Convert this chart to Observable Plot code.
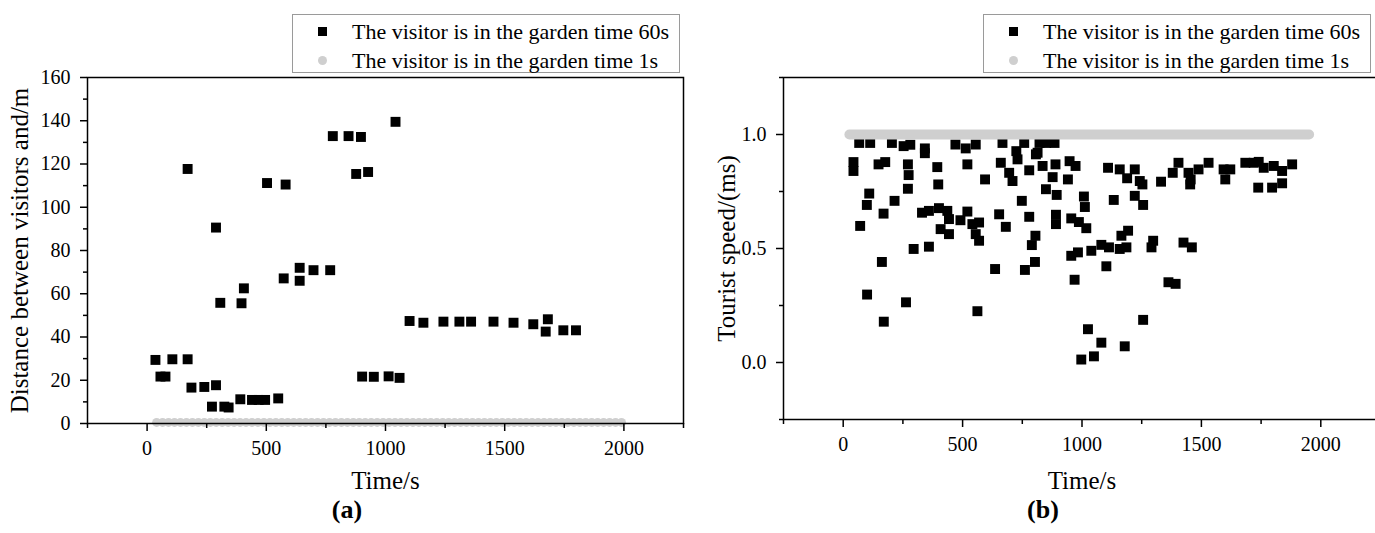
<!DOCTYPE html>
<html>
<head>
<meta charset="utf-8">
<script src="https://cdn.jsdelivr.net/npm/d3@7"></script>
<script src="https://cdn.jsdelivr.net/npm/@observablehq/plot@0.6"></script>
<style>
  html, body { margin: 0; padding: 0; background: #fff; }
  body { width: 1375px; height: 533px; overflow: hidden; position: relative;
         font-family: "Liberation Serif", "Times New Roman", serif; color: #000; }
  .panel { position: absolute; top: 0; width: 700px; height: 533px; }
  .legend { position: absolute; top: 14px; width: 386px; height: 57px; border: 1px solid #9a9a9a;
            background: #fff; font-size: 22px; }
  .legend .row { position: absolute; left: 0; width: 100%; height: 28px; line-height: 28px; }
  .legend .row span.txt { position: absolute; left: 59px; top: 0; white-space: nowrap; }
  .legend .mk { position: absolute; left: 25px; top: 9px; width: 9px; height: 9px; }
  .legend .sq { background: #000; }
  .legend .ci { background: #cfcfcf; border-radius: 50%; }
  .caption { position: absolute; top: 497px; width: 120px; margin-left: -60px; text-align: center;
             font-weight: bold; font-size: 26px; line-height: 26px; }
  svg [aria-label="x-axis label"], svg [aria-label="y-axis label"] { font-size: 25px; }
</style>
</head>
<body>
<script>
// ---------- ticks & labels ----------
const timeTicks = [0, 500, 1000, 1500, 2000];
const timeMinorTicks = [-250, 250, 750, 1250, 1750, 2250];
const distanceTicks = [0, 20, 40, 60, 80, 100, 120, 140, 160];
const distanceMinorTicks = [10, 30, 50, 70, 90, 110, 130, 150];
const speedTicks = [0, 0.5, 1.0];
const speedMinorTicks = [-0.25, 0.25, 0.75, 1.25];
const legendLabels = ["The visitor is in the garden time 60s", "The visitor is in the garden time 1s"];
const panelCaptions = ["(a)", "(b)"];
const xLabel = "Time/s";
const distanceLabel = "Distance between visitors and/m";
const speedLabel = "Tourist speed/(ms)";

// ---------- (a) distance, garden time 60s ----------
const distTime = [35, 56, 77, 106, 170, 170, 186, 240, 289, 289, 272, 324, 342, 307, 396, 406, 391, 440, 468, 495,
  550, 503, 581, 573, 640, 640, 698, 768, 779, 845, 897, 877, 927, 1042, 902, 951, 1013, 1059, 1101, 1159,
  1243, 1310, 1359, 1453, 1537, 1620, 1681, 1672, 1746, 1799];
const distValue = [29.4, 21.7, 21.7, 29.7, 29.7, 117.7, 16.6, 16.9, 17.7, 90.6, 7.8, 7.8, 7.4, 55.8, 55.6, 62.5, 11.2, 10.9, 10.9, 10.9,
  11.6, 111.2, 110.5, 67.1, 72, 66, 70.9, 70.9, 132.9, 132.9, 132.5, 115.4, 116.3, 139.5, 21.7, 21.6, 21.8, 21.1, 47.4, 46.6,
  47.1, 47.1, 47.1, 47.1, 46.6, 45.9, 48.2, 42.5, 43.1, 43.1];

// ---------- (a) distance, garden time 1s ----------
const dist1sTime = [40, 65, 90, 115, 140, 165, 190, 215, 240, 265, 290, 315, 340, 365, 390, 415, 440, 465, 490, 515,
  540, 565, 590, 615, 640, 665, 690, 715, 740, 765, 790, 815, 840, 865, 890, 915, 940, 965, 990, 1015,
  1040, 1065, 1090, 1115, 1140, 1165, 1190, 1215, 1240, 1265, 1290, 1315, 1340, 1365, 1390, 1415, 1440, 1465, 1490, 1515,
  1540, 1565, 1590, 1615, 1640, 1665, 1690, 1715, 1740, 1765, 1790, 1815, 1840, 1865, 1890, 1915, 1940, 1965, 1990];
const dist1sValue = 0.5;

// ---------- (b) speed, garden time 60s ----------
const speedTime = [
  67, 113, 204, 253, 281, 342, 342, 470, 513, 555, 667, 725, 758, 822, 850, 885,
  43, 43, 148, 176, 271, 274, 271, 394, 398, 520, 594, 660, 695, 709, 730, 779, 807, 814, 835, 849, 877, 889, 894, 941, 948, 973, 1008, 1012,
  109, 99, 215, 169, 71, 330, 359, 401, 436, 443, 491, 520, 408, 443, 541, 569, 555, 569, 653, 681, 748, 779, 805, 790, 295, 359,
  162, 100, 170, 263, 562, 636, 761, 803, 891, 891, 955, 987, 1018, 955, 983, 969, 1039, 1081, 1113, 1158, 1186, 1165, 1193, 1291, 1298,
  1425, 1460, 1102, 1362, 1392, 1256, 1025, 1081, 1179, 997, 1050,
  1109, 1158, 1189, 1221, 1242, 1253, 1133, 1221, 1256, 1331, 1380, 1404, 1446, 1453, 1455, 1488, 1530, 1593, 1621, 1600,
  1684, 1719, 1740, 1761, 1803, 1838, 1880, 1738, 1796, 1838];
const speedValue = [
  0.963, 0.963, 0.963, 0.949, 0.955, 0.939, 0.918, 0.956, 0.939, 0.956, 0.963, 0.927, 0.963, 0.963, 0.963, 0.963,
  0.879, 0.840, 0.869, 0.879, 0.869, 0.822, 0.762, 0.857, 0.781, 0.869, 0.803, 0.876, 0.832, 0.796, 0.891, 0.843, 0.913, 0.920, 0.862, 0.760, 0.813, 0.869, 0.735, 0.803, 0.883, 0.862, 0.728, 0.682,
  0.741, 0.691, 0.709, 0.653, 0.599, 0.657, 0.665, 0.677, 0.665, 0.629, 0.624, 0.662, 0.585, 0.563, 0.607, 0.614, 0.563, 0.534, 0.650, 0.595, 0.709, 0.639, 0.556, 0.515, 0.498, 0.508,
  0.441, 0.298, 0.179, 0.264, 0.225, 0.410, 0.406, 0.441, 0.648, 0.607, 0.632, 0.616, 0.589, 0.468, 0.483, 0.363, 0.490, 0.516, 0.505, 0.498, 0.505, 0.556, 0.578, 0.505, 0.534,
  0.526, 0.505, 0.422, 0.352, 0.345, 0.187, 0.146, 0.087, 0.071, 0.013, 0.027,
  0.854, 0.847, 0.808, 0.847, 0.796, 0.781, 0.713, 0.731, 0.691, 0.793, 0.832, 0.876, 0.832, 0.781, 0.803, 0.847, 0.876, 0.847, 0.847, 0.803,
  0.876, 0.876, 0.880, 0.854, 0.862, 0.840, 0.869, 0.767, 0.767, 0.786];

// ---------- (b) speed, garden time 1s ----------
const speed1sTime = [26, 1951];
const speed1sValue = [1.0, 1.0];

// ---------- tables ----------
const distRows = distTime.map((t, i) => ({t, v: distValue[i]}));
const dist1sRows = dist1sTime.map(t => ({t, v: dist1sValue}));
const speedRows = speedTime.map((t, i) => ({t, v: speedValue[i]}));
const speed1sRows = speed1sTime.map((t, i) => ({t, v: speed1sValue[i]}));

const FONT = '"Liberation Serif", "Times New Roman", serif';
const BLACK = "#000";
const GREY = "#cfcfcf";

function axes(yTicks, yMinor, yFormat, yLabel, yLabelOffset, xLabelOffset) {
  return [
    Plot.axisX({ticks: timeTicks, tickSize: 8, tickPadding: 9, tickFormat: "d", stroke: BLACK, strokeWidth: 1.5,
                label: xLabel, labelAnchor: "center", labelArrow: false, labelOffset: xLabelOffset}),
    Plot.axisX({ticks: timeMinorTicks, tickSize: 5, tickFormat: () => "", stroke: BLACK, strokeWidth: 1.5, label: null}),
    Plot.axisY({ticks: yTicks, tickSize: 7, tickPadding: 10, tickFormat: yFormat, stroke: BLACK, strokeWidth: 1.5,
                label: yLabel, labelAnchor: "center", labelArrow: false, labelOffset: yLabelOffset}),
    Plot.axisY({ticks: yMinor, tickSize: 4, tickFormat: () => "", stroke: BLACK, strokeWidth: 1.5, label: null}),
    Plot.frame({stroke: BLACK, strokeWidth: 1.5})
  ];
}

const common = {
  width: 700, height: 500, marginLeft: 87, marginTop: 77,
  style: {fontFamily: FONT, fontSize: "20px", color: BLACK, background: "transparent", overflow: "visible"},
  x: {domain: [-250, 2250]}
};

const plotA = Plot.plot({
  ...common, marginRight: 17, marginBottom: 77,
  y: {domain: [0, 160]},
  marks: [
    Plot.dot(dist1sRows, {x: "t", y: "v", r: 4.5, fill: GREY}),
    Plot.dot(distRows, {x: "t", y: "v", symbol: "square", r: 5.6, fill: BLACK}),
    ...axes(distanceTicks, distanceMinorTicks, "d", distanceLabel, 77, 65)
  ]
});

const plotB = Plot.plot({
  ...common, marginRight: 16, marginBottom: 81,
  y: {domain: [-0.25, 1.25]},
  marks: [
    Plot.dot(speedRows, {x: "t", y: "v", symbol: "square", r: 5.6, fill: BLACK}),
    Plot.line(speed1sRows, {x: "t", y: "v", stroke: GREY, strokeWidth: 10, strokeLinecap: "round"}),
    ...axes(speedTicks, speedMinorTicks, ".1f", speedLabel, 66, 69)
  ]
});

function legend(left) {
  const box = document.createElement("div");
  box.className = "legend";
  box.style.left = left + "px";
  const kinds = ["sq", "ci"];
  legendLabels.forEach((lab, i) => {
    const row = document.createElement("div");
    row.className = "row";
    row.style.top = (3 + i * 28.5) + "px";
    const mk = document.createElement("div");
    mk.className = "mk " + kinds[i];
    const tx = document.createElement("span");
    tx.className = "txt";
    tx.textContent = lab;
    row.append(mk, tx);
    box.append(row);
  });
  return box;
}

function panel(left, plot, legendLeft, caption, captionX) {
  const div = document.createElement("div");
  div.className = "panel";
  div.style.left = left + "px";
  div.append(plot);
  document.body.append(div);
  document.body.append(legend(legendLeft));
  const cap = document.createElement("div");
  cap.className = "caption";
  cap.style.left = captionX + "px";
  cap.textContent = caption;
  document.body.append(cap);
}

panel(0, plotA, 292, panelCaptions[0], 347);
panel(696, plotB, 983, panelCaptions[1], 1043);
</script>
</body>
</html>
